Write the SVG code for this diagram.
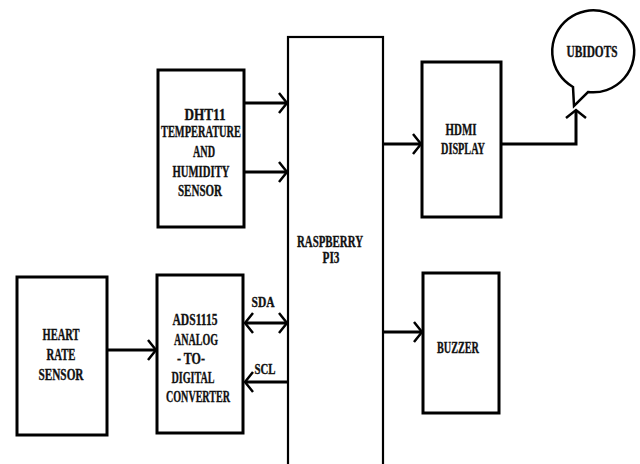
<svg xmlns="http://www.w3.org/2000/svg" width="640" height="464" viewBox="0 0 640 464">
<defs>
<style>
.box{fill:#fff;stroke:#000;stroke-width:3}
.pi{fill:#fff;stroke:#000;stroke-width:2.2}
.t{font-family:"Liberation Serif","Times New Roman",serif;font-weight:bold;font-size:16px;fill:#111;stroke:#111;stroke-width:0.35;text-anchor:middle}
.s{font-size:14px}
.c{fill:none;stroke:#000;stroke-width:3}
</style>
<marker id="ah" markerUnits="userSpaceOnUse" markerWidth="20" markerHeight="26" viewBox="-12 -13 14 26" refX="0" refY="0" orient="auto-start-reverse">
<path d="M-8,-10 L0,0 L-8,10" fill="none" stroke="#000" stroke-width="2.5"/>
</marker>
</defs>
<rect width="640" height="464" fill="#fff"/>

<g id="connectors">
<line class="c" x1="244" y1="103" x2="287" y2="103" marker-end="url(#ah)"/>
<line class="c" x1="244" y1="172" x2="287" y2="172" marker-end="url(#ah)"/>
<line class="c" x1="107" y1="350" x2="156" y2="350" marker-end="url(#ah)"/>
<line class="c" x1="245" y1="323" x2="287" y2="323" marker-start="url(#ah)" marker-end="url(#ah)"/>
<line class="c" x1="288" y1="382" x2="245" y2="382" marker-end="url(#ah)"/>
<line class="c" x1="383" y1="144" x2="421" y2="144" marker-end="url(#ah)"/>
<line class="c" x1="383" y1="332" x2="422" y2="332" marker-end="url(#ah)"/>
<polyline class="c" points="501,144 576,144 576,110" marker-end="url(#ah)"/>
</g>

<g id="dht11">
<rect class="box" x="158" y="70" width="86" height="157"/>
<text class="t" x="205" y="120" textLength="41" lengthAdjust="spacingAndGlyphs">DHT11</text>
<text class="t" x="201" y="137" textLength="80" lengthAdjust="spacingAndGlyphs">TEMPERATURE</text>
<text class="t" x="204" y="157" textLength="22" lengthAdjust="spacingAndGlyphs">AND</text>
<text class="t" x="201" y="177" textLength="57" lengthAdjust="spacingAndGlyphs">HUMIDITY</text>
<text class="t" x="200" y="196" textLength="44" lengthAdjust="spacingAndGlyphs">SENSOR</text>
</g>

<g id="raspberry">
<rect class="pi" x="288" y="37" width="95" height="440"/>
<text class="t" x="330" y="247" textLength="66" lengthAdjust="spacingAndGlyphs">RASPBERRY</text>
<text class="t" x="331" y="263" textLength="17" lengthAdjust="spacingAndGlyphs">PI3</text>
</g>

<g id="hdmi">
<rect class="box" x="422" y="62" width="79" height="155"/>
<text class="t" x="461" y="135" textLength="31" lengthAdjust="spacingAndGlyphs">HDMI</text>
<text class="t" x="463" y="154" textLength="44" lengthAdjust="spacingAndGlyphs">DISPLAY</text>
</g>

<g id="ubidots">
<path d="M573,87 A41,41 0 1 1 588,92 L574,106 Z" fill="#fff" stroke="#000" stroke-width="2.5" stroke-linejoin="miter"/>
<text class="t" x="592" y="57" textLength="51" lengthAdjust="spacingAndGlyphs">UBIDOTS</text>
</g>

<g id="buzzer">
<rect class="box" x="423" y="273" width="76" height="140"/>
<text class="t" x="458" y="353" textLength="42" lengthAdjust="spacingAndGlyphs">BUZZER</text>
</g>

<g id="heart">
<rect class="box" x="17" y="277" width="90" height="158"/>
<text class="t" x="61" y="340" textLength="37" lengthAdjust="spacingAndGlyphs">HEART</text>
<text class="t" x="61" y="360" textLength="29" lengthAdjust="spacingAndGlyphs">RATE</text>
<text class="t" x="61" y="380" textLength="45" lengthAdjust="spacingAndGlyphs">SENSOR</text>
</g>

<g id="ads1115">
<rect class="box" x="157" y="275" width="86" height="158"/>
<text class="t" x="195" y="325" textLength="45" lengthAdjust="spacingAndGlyphs">ADS1115</text>
<text class="t" x="196" y="345" textLength="44" lengthAdjust="spacingAndGlyphs">ANALOG</text>
<text class="t" x="191" y="364" textLength="28" lengthAdjust="spacingAndGlyphs">- TO-</text>
<text class="t" x="193" y="383" textLength="43" lengthAdjust="spacingAndGlyphs">DIGITAL</text>
<text class="t" x="198" y="402" textLength="64" lengthAdjust="spacingAndGlyphs">CONVERTER</text>
</g>

<g id="labels">
<text class="t s" x="263" y="307" textLength="23" lengthAdjust="spacingAndGlyphs">SDA</text>
<text class="t s" x="265" y="374" textLength="21" lengthAdjust="spacingAndGlyphs">SCL</text>
</g>
</svg>
